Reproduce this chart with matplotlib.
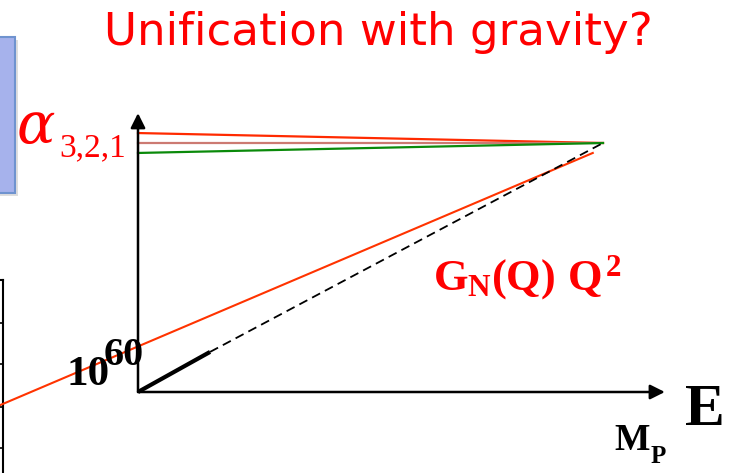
import matplotlib.pyplot as plt
from matplotlib.patches import Rectangle

# schematic values: x = log energy (origin 0, Planck mass 1), y = coupling (unification 1)
energy = [0.0, 1.0]
alpha3 = [1.04, 1.0]
alpha2 = [1.0, 1.0]
alpha1 = [0.96, 1.0]
grav_known_x = [0.0, 0.155]
grav_known_y = [0.0, 0.161]
grav_extrap_x = [0.155, 1.0]
grav_extrap_y = [0.161, 1.0]
fit_x = [-0.297, 0.978]
fit_y = [-0.053, 0.96]
axis_x_end = 1.133
axis_y_end = 1.12
side_ticks = [25, 66, 109, 150]

W, H = 736, 473
fig = plt.figure(figsize=(7.36, 4.73), dpi=100)

def fx(px):
    return px / W

def fy(py):
    return 1 - py / H

# cut-off frame at the left edge
lax = fig.add_axes([-0.1, 0, 0.1 + fx(3), (H - 280) / H])
lax.set_xlim(0, 1)
lax.set_ylim(0, 193)
lax.spines['left'].set_visible(False)
lax.spines['bottom'].set_visible(False)
lax.yaxis.tick_right()
lax.set_yticks(side_ticks)
lax.tick_params(axis='y', direction='in', length=4, width=1.2, labelright=False)
lax.set_xticks([])
for s in ['right', 'top']:
    lax.spines[s].set_linewidth(1.5)

# blue box at the left edge with shadow
fig.patches.append(Rectangle((fx(-8), fy(196)), fx(26), 156 / H, transform=fig.transFigure,
                             facecolor='#c8c8c8', edgecolor='none', alpha=0.6, zorder=0))
fig.patches.append(Rectangle((fx(-10), fy(193)), fx(25), 156 / H, transform=fig.transFigure,
                             facecolor='#a6b2ec', edgecolor='#6f93cf', lw=1.5, zorder=1))

ax = fig.add_axes([0, 0, 1, 1])
ax.patch.set_alpha(0)
x0, sx = 138, 465
y0, sy = 392, 249
ax.set_xlim(-x0 / sx, (W - x0) / sx)
ax.set_ylim(-(H - y0) / sy, y0 / sy)
ax.axis('off')

ax.plot(energy, alpha3, color='#ff2a00', lw=1.6, zorder=3)
ax.plot(energy, alpha2, color='#cc7a72', lw=1.6, zorder=3)
ax.plot(energy, alpha1, color='#0a8a0a', lw=1.6, zorder=3)
ax.plot(fit_x, fit_y, color='#ff3300', lw=1.5, zorder=3)
ax.plot(grav_known_x, grav_known_y, color='black', lw=3, solid_capstyle='butt', zorder=4)
ax.plot(grav_extrap_x, grav_extrap_y, color='black', lw=1.3, ls=(0, (5, 3)), zorder=4)

arrow = dict(arrowstyle='-|>', lw=1.8, color='black', mutation_scale=22, shrinkA=0, shrinkB=0)
ax.annotate('', xy=(0, axis_y_end), xytext=(0, 0), arrowprops=arrow)
ax.annotate('', xy=(axis_x_end, 0), xytext=(0, 0), arrowprops=arrow)

plt.rcParams['mathtext.fontset'] = 'custom'
plt.rcParams['mathtext.rm'] = 'Liberation Serif:bold'
plt.rcParams['mathtext.it'] = 'Liberation Serif:bold'
plt.rcParams['mathtext.bf'] = 'Liberation Serif:bold'

red = '#ff0000'
fig.text(fx(378), fy(45), 'Unification with gravity?', ha='center', va='baseline',
         color=red, fontsize=32.5, family='DejaVu Sans')
fig.text(fx(17), fy(143), 'α', color=red, fontsize=41, family='DejaVu Serif',
         style='italic', va='baseline')
fig.text(fx(59), fy(156), '3,2,1', color=red, fontsize=24, family='Liberation Serif',
         va='baseline')
fig.text(fx(67), fy(385), '10', color='black', fontsize=31, family='Liberation Serif',
         weight='bold', va='baseline')
fig.text(fx(104), fy(365), '60', color='black', fontsize=29, family='Liberation Serif',
         weight='bold', va='baseline')
fig.text(fx(433), fy(290), r'$G_N(Q)\ Q^2$', color=red, fontsize=32, va='baseline')
fig.text(fx(685), fy(425), 'E', color='black', fontsize=43, family='Liberation Serif',
         weight='bold', va='baseline')
fig.text(fx(614), fy(450), 'M', color='black', fontsize=27, family='Liberation Serif',
         weight='bold', va='baseline')
fig.text(fx(651), fy(463), 'P', color='black', fontsize=18, family='Liberation Serif',
         weight='bold', va='baseline')

fig.savefig('out.png', dpi=100)
